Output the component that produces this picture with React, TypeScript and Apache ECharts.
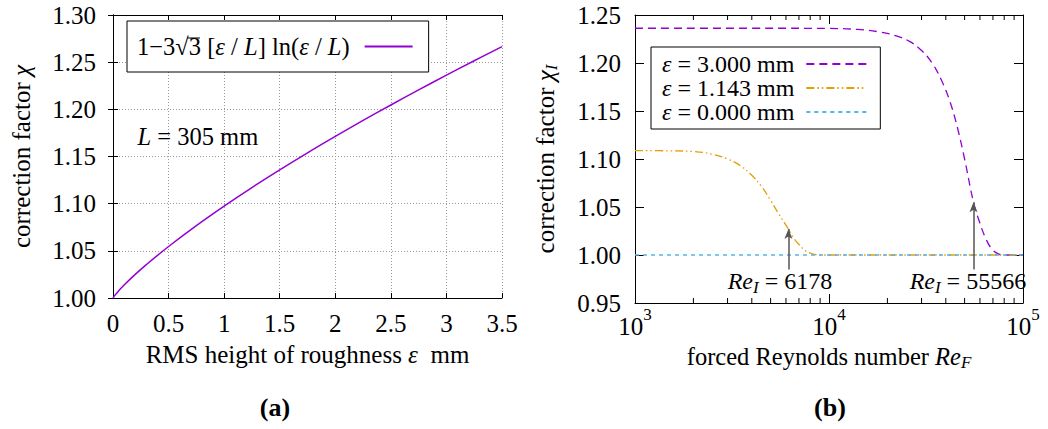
import React, { useEffect, useRef } from 'react';
import * as echarts from 'echarts';

const FONT = 'Liberation Serif';

// Panel (a)
const epsMM = [0, 0.02, 0.05, 0.1, 0.2, 0.3, 0.5, 0.75, 1, 1.25, 1.5, 1.75, 2, 2.25, 2.5, 2.75, 3, 3.25, 3.5];
const chiA = [1.0, 1.0033, 1.0074, 1.0137, 1.025, 1.0354, 1.0546, 1.0768, 1.0975, 1.1171, 1.1358, 1.1539, 1.1713, 1.1882, 1.2046, 1.2206, 1.2362, 1.2515, 1.2664];

// Panel (b)
const reE3 = [1000, 5000, 10000, 14000, 18000, 22000, 26000, 30000, 34000, 38000, 42000, 46000, 50000, 55566, 60000, 65000, 70000, 75000, 80000, 100000];
const chiE3 = [1.2362, 1.2362, 1.236, 1.235, 1.2325, 1.2285, 1.2225, 1.213, 1.2, 1.182, 1.16, 1.132, 1.1, 1.055, 1.033, 1.015, 1.005, 1.001, 1.0, 1.0];
const reE1 = [1000, 1500, 2000, 2500, 3000, 3500, 4000, 4500, 5000, 5500, 6178, 6500, 7000, 7500, 8000, 9000, 100000];
const chiE1 = [1.1088, 1.1085, 1.1078, 1.105, 1.1, 1.093, 1.083, 1.071, 1.057, 1.043, 1.027, 1.019, 1.011, 1.005, 1.002, 1.0, 1.0];
const reE0 = [1000, 100000];
const chiE0 = [1.0, 1.0];

const arrowRe = [6178, 55566];
const arrowTip = [1.027, 1.055];
const arrowBase = 0.985;
const arrowLabelRe = [5585, 52000];
const arrowLabelY = 0.971;

const minorTicks = [2000, 3000, 4000, 5000, 6000, 7000, 8000, 9000, 20000, 30000, 40000, 50000, 60000, 70000, 80000, 90000];

const NAME_A = '1−3√3 [ε / L] ln(ε / L)';
const NAME_E3 = 'ε = 3.000 mm';
const NAME_E1 = 'ε = 1.143 mm';
const NAME_E0 = 'ε = 0.000 mm';

const C_PURPLE = '#9400d3';
const C_ORANGE = '#e69f00';
const C_CYAN = '#56b4e9';

const zip = (xs: number[], ys: number[]) => xs.map((x, i) => [x, ys[i]]);

const tick = { fontFamily: FONT, fontSize: 25, color: '#000' };
const big = { fontFamily: FONT, fontSize: 25, color: '#000' };
const bigR = { fontFamily: FONT, fontSize: 24.5, color: '#000' };
const legA = { fontFamily: FONT, fontSize: 24.5, color: '#000' };
const legB = { fontFamily: FONT, fontSize: 24, color: '#000' };
const ann = { fontFamily: FONT, fontSize: 24, color: '#000' };
const richOf = (s: any, gap: number) => ({
  i: { ...s, fontStyle: 'italic' },
  t: { ...s },
  g: { ...s, width: gap },
});

export default function App() {
  const ref = useRef<HTMLDivElement>(null);
  useEffect(() => {
    const chart = echarts.init(ref.current!, null, { renderer: 'svg' });
    const axisLine = { show: true, lineStyle: { color: '#000', width: 1 } };
    const subRich = (s: any) => ({
      t: { ...s, verticalAlign: 'top' },
      i: { ...s, fontStyle: 'italic', verticalAlign: 'top' },
      sub: { ...s, fontSize: 17, fontStyle: 'italic', verticalAlign: 'bottom', padding: [10, 0, 0, 0] },
    });
    const option: any = {
      animation: false,
      grid: [
        { left: 113, right: 546, top: 15, bottom: 131 },
        { left: 635, right: 25, top: 15, bottom: 126 },
      ],
      xAxis: [
        {
          gridIndex: 0, type: 'value', min: 0, max: 3.5, interval: 0.5,
          axisLine, axisTick: { show: true, inside: true, length: 5, lineStyle: { color: '#000' } },
          axisLabel: { ...tick, margin: 13, formatter: (v: number) => String(v) },
          splitLine: { show: true, lineStyle: { color: '#999', type: [1, 2], width: 1 } },
          name: '{t|RMS height of roughness }{i|ε}{t|  mm}', nameLocation: 'middle', nameGap: 44,
          nameTextStyle: { ...big, rich: richOf(big, 0) },
        },
        {
          gridIndex: 0, type: 'value', min: 0, max: 3.5, interval: 0.5, position: 'top',
          axisLine, axisTick: { show: true, inside: true, length: 5, lineStyle: { color: '#000' } },
          axisLabel: { show: false }, splitLine: { show: false },
        },
        {
          gridIndex: 1, type: 'log', logBase: 10, min: 1000, max: 100000,
          axisLine, axisTick: { show: true, inside: true, length: 9, lineStyle: { color: '#000' } },
          axisLabel: {
            margin: 3,
            formatter: (v: number) => '{b|10}{sup|' + Math.round(Math.log10(v)) + '}',
            rich: {
              b: { ...tick, verticalAlign: 'bottom', padding: [8, 0, 0, 0] },
              sup: { ...tick, fontSize: 17, verticalAlign: 'top' },
            },
          },
          splitLine: { show: false }, minorTick: { show: false },
          name: '{t|forced Reynolds number }{i|Re}{sub|F}', nameLocation: 'middle', nameGap: 41,
          nameTextStyle: { ...bigR, rich: subRich(bigR) },
        },
        {
          gridIndex: 1, type: 'log', logBase: 10, min: 1000, max: 100000, position: 'top',
          axisLine, axisTick: { show: true, inside: true, length: 9, lineStyle: { color: '#000' } },
          axisLabel: { show: false }, splitLine: { show: false },
        },
      ],
      yAxis: [
        {
          gridIndex: 0, type: 'value', min: 1.0, max: 1.3, interval: 0.05,
          axisLine, axisTick: { show: true, inside: true, length: 5, lineStyle: { color: '#000' } },
          axisLabel: { ...tick, margin: 17, formatter: (v: number) => v.toFixed(2) },
          splitLine: { show: true, lineStyle: { color: '#999', type: [1, 2], width: 1 } },
          name: '{t|correction factor }{i|χ}', nameLocation: 'middle', nameGap: 79,
          nameTextStyle: { ...big, rich: richOf(big, 0) },
        },
        {
          gridIndex: 0, type: 'value', min: 1.0, max: 1.3, interval: 0.05, position: 'right',
          axisLine, axisTick: { show: true, inside: true, length: 5, lineStyle: { color: '#000' } },
          axisLabel: { show: false }, splitLine: { show: false },
        },
        {
          gridIndex: 1, type: 'value', min: 0.95, max: 1.25, interval: 0.05,
          axisLine, axisTick: { show: true, inside: true, length: 9, lineStyle: { color: '#000' } },
          axisLabel: { ...tick, margin: 14, formatter: (v: number) => v.toFixed(2) },
          splitLine: { show: false },
          name: '{t|correction factor }{i|χ}{sub|I}', nameLocation: 'middle', nameGap: 75,
          nameTextStyle: { ...big, rich: subRich(big) },
        },
        {
          gridIndex: 1, type: 'value', min: 0.95, max: 1.25, interval: 0.05, position: 'right',
          axisLine, axisTick: { show: true, inside: true, length: 9, lineStyle: { color: '#000' } },
          axisLabel: { show: false }, splitLine: { show: false },
        },
      ],
      legend: [
        {
          data: [NAME_A], left: 127, top: 21, orient: 'horizontal', align: 'right',
          itemWidth: 48, itemHeight: 14, itemGap: 0, padding: [12, 15, 12, 10],
          borderColor: '#000', borderWidth: 1, borderRadius: 0, backgroundColor: '#fff',
          selectedMode: false,
          itemStyle: { color: 'rgba(0,0,0,0)', borderWidth: 0 },
          textStyle: { ...legA, lineHeight: 27, rich: richOf(legA, 10) },
          formatter: () => '{t|1−3√3 [}{i|ε}{t| / }{i|L}{t|] ln(}{i|ε}{t| / }{i|L}{t|)}{g| }',
        },
        {
          data: [NAME_E3, NAME_E1, NAME_E0], left: 651, top: 47, orient: 'vertical', align: 'right',
          itemWidth: 60, itemHeight: 14, itemGap: 0, padding: [5, 13, 5, 11],
          borderColor: '#000', borderWidth: 1, borderRadius: 0, backgroundColor: '#fff',
          selectedMode: false,
          itemStyle: { color: 'rgba(0,0,0,0)', borderWidth: 0 },
          textStyle: { ...legB, lineHeight: 24, rich: richOf({ ...legB, lineHeight: 24 }, 7) },
          formatter: (n: string) => '{i|ε}{t|' + n.slice(1) + '}{g| }',
        },
      ],
      series: [
        {
          name: NAME_A, type: 'line', xAxisIndex: 0, yAxisIndex: 0, data: zip(epsMM, chiA),
          symbol: 'none', smooth: 0.4,
          lineStyle: { color: C_PURPLE, width: 1.5 }, itemStyle: { color: C_PURPLE },
          markPoint: {
            symbol: 'circle', symbolSize: 1, itemStyle: { color: 'rgba(0,0,0,0)' }, silent: true,
            data: [{ coord: [0.216, 1.171] }],
            label: {
              show: true, position: 'right', distance: 0,
              formatter: () => '{i|L}{t| = 305 mm}', rich: richOf(legA, 0),
            },
          },
        },
        {
          name: NAME_E3, type: 'line', xAxisIndex: 2, yAxisIndex: 2, data: zip(reE3, chiE3),
          symbol: 'none', smooth: 0.4,
          lineStyle: { color: C_PURPLE, width: 1.3, type: [8, 5] }, itemStyle: { color: C_PURPLE },
        },
        {
          name: NAME_E1, type: 'line', xAxisIndex: 2, yAxisIndex: 2, data: zip(reE1, chiE1),
          symbol: 'none', smooth: 0.4,
          lineStyle: { color: C_ORANGE, width: 1.3, type: [8, 3, 1.5, 3, 1.5, 3] }, itemStyle: { color: C_ORANGE },
        },
        {
          name: NAME_E0, type: 'line', xAxisIndex: 2, yAxisIndex: 2, data: zip(reE0, chiE0),
          symbol: 'none',
          lineStyle: { color: C_CYAN, width: 1.3, type: [4, 4] }, itemStyle: { color: C_CYAN },
          markLine: {
            silent: true, animation: false,
            label: { show: false },
            lineStyle: { color: '#555', width: 1.5, type: 'solid' },
            data: arrowRe.map((r, i) => [
              { coord: [r, arrowBase], symbol: 'none' },
              { coord: [r, arrowTip[i]], symbol: 'arrow', symbolSize: [6, 10] },
            ]),
          },
          markPoint: {
            symbol: 'circle', symbolSize: 1, itemStyle: { color: 'rgba(0,0,0,0)' }, silent: true,
            data: arrowRe.map((r, i) => ({ coord: [arrowLabelRe[i], arrowLabelY], value: r })),
            label: {
              show: true, position: 'inside',
              formatter: (p: any) => '{r|Re}{sub|I}{t| = ' + p.value + '}',
              rich: {
                r: { ...ann, fontStyle: 'italic', verticalAlign: 'top' },
                t: { ...ann, verticalAlign: 'top' },
                sub: { ...ann, fontSize: 17, fontStyle: 'italic', verticalAlign: 'bottom', padding: [10, 0, 0, 0] },
              },
            },
          },
        },
        {
          type: 'custom', xAxisIndex: 2, yAxisIndex: 2, silent: true,
          data: minorTicks.map((v) => [v, 0.95]),
          renderItem: (params: any, api: any) => {
            const v = api.value(0);
            const b = api.coord([v, 0.95]);
            const t = api.coord([v, 1.25]);
            return {
              type: 'group',
              children: [
                { type: 'line', shape: { x1: b[0], y1: b[1], x2: b[0], y2: b[1] - 5 }, style: { stroke: '#000', lineWidth: 1 } },
                { type: 'line', shape: { x1: t[0], y1: t[1], x2: t[0], y2: t[1] + 5 }, style: { stroke: '#000', lineWidth: 1 } },
              ],
            };
          },
        },
      ],
      graphic: [
        { type: 'line', shape: { x1: 187.5, y1: 38, x2: 200, y2: 38 }, style: { stroke: '#000', lineWidth: 1 }, z: 100 },
        { type: 'text', x: 275, y: 407, style: { text: '(a)', fontFamily: FONT, fontSize: 26, fontWeight: 'bold', fill: '#000', align: 'center', verticalAlign: 'middle' } },
        { type: 'text', x: 830, y: 407, style: { text: '(b)', fontFamily: FONT, fontSize: 26, fontWeight: 'bold', fill: '#000', align: 'center', verticalAlign: 'middle' } },
      ],
    };
    chart.setOption(option);
    return () => chart.dispose();
  }, []);
  return <div ref={ref} style={{ position: 'absolute', left: 0, top: 0, width: 1048, height: 429 }} />;
}
